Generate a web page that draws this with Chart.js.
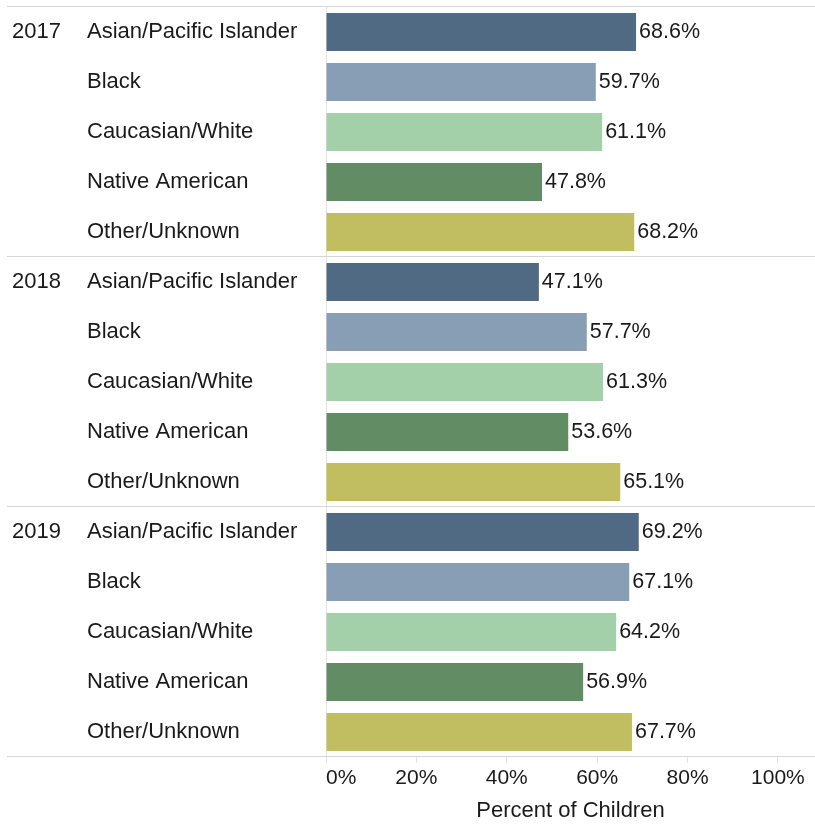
<!DOCTYPE html>
<html lang="en">
<head>
<meta charset="UTF-8">
<title>Percent of Children by Race</title>
<script src="https://cdn.jsdelivr.net/npm/chart.js"></script>
<style>
  html, body { margin: 0; padding: 0; background: #fff; }
  canvas { display: block; }
</style>
</head>
<body>
<canvas id="chart" width="815" height="824"></canvas>
<script>
// data
const years = ['2017', '2018', '2019'];
const groups = ['Asian/Pacific Islander', 'Black', 'Caucasian/White', 'Native American', 'Other/Unknown'];
const values2017 = [68.6, 59.7, 61.1, 47.8, 68.2];
const values2018 = [47.1, 57.7, 61.3, 53.6, 65.1];
const values2019 = [69.2, 67.1, 64.2, 56.9, 67.7];
const xTicks = [0, 20, 40, 60, 80, 100];
const groupColors = ['#4f6a82', '#879eb4', '#a3cfa9', '#618c64', '#c1bd61'];

const FONT = "'Liberation Sans', Arial, Helvetica, sans-serif";
const TEXT = '#1a1a1a';
const LINE = '#d6d6d6';

// one row per year+group
const labels = [];
const values = [];
const colors = [];
[values2017, values2018, values2019].forEach(function (vals) {
    vals.forEach(function (v, i) {
        labels.push(groups[i]);
        values.push(v);
        colors.push(groupColors[i]);
    });
});

// year labels, separators and value labels
const extras = {
    id: 'extras',
    afterDraw(chart) {
        const ctx = chart.ctx;
        const area = chart.chartArea;
        const y = chart.scales.y;
        const n = groups.length;
        const rowH = (area.bottom - area.top) / labels.length;

        ctx.save();
        ctx.strokeStyle = LINE;
        ctx.lineWidth = 1;
        for (let g = 0; g <= years.length; g++) {
            const yy = Math.round(area.top + g * n * rowH) - 0.5;
            ctx.beginPath();
            ctx.moveTo(7, yy);
            ctx.lineTo(area.right, yy);
            ctx.stroke();
        }

        ctx.fillStyle = TEXT;
        ctx.font = '22px ' + FONT;
        ctx.textBaseline = 'middle';
        ctx.textAlign = 'left';
        years.forEach(function (yr, g) {
            ctx.fillText(yr, 12, y.getPixelForValue(g * n));
        });

        ctx.font = '21.5px ' + FONT;
        const meta = chart.getDatasetMeta(0);
        meta.data.forEach(function (bar, i) {
            ctx.fillText(values[i].toFixed(1) + '%', bar.x + 3, bar.y);
        });
        ctx.restore();
    }
};

new Chart(document.getElementById('chart'), {
    type: 'bar',
    data: {
        labels: labels,
        datasets: [{
            data: values,
            backgroundColor: colors,
            borderWidth: 0,
            barPercentage: 0.76,
            categoryPercentage: 1
        }]
    },
    options: {
        indexAxis: 'y',
        responsive: false,
        animation: false,
        layout: { padding: { top: 7, left: 87, right: 0, bottom: 0 } },
        plugins: {
            legend: { display: false },
            tooltip: { enabled: false }
        },
        scales: {
            x: {
                min: 0,
                max: 108.2,
                afterBuildTicks(scale) {
                    scale.ticks = xTicks.map(v => ({ value: v })).concat([{ value: 108.2 }]);
                },
                afterFit(scale) {
                    scale.height = 67;
                    scale.paddingLeft = 0;
                    scale.paddingRight = 0;
                },
                ticks: {
                    autoSkip: false,
                    maxRotation: 0,
                    align: 'inner',
                    padding: 3,
                    color: TEXT,
                    font: { family: FONT, size: 21 },
                    callback: v => (xTicks.includes(v) ? v + '%' : '')
                },
                grid: {
                    drawOnChartArea: false,
                    drawTicks: true,
                    tickLength: 6,
                    tickColor: ctx => (ctx.tick && xTicks.includes(ctx.tick.value) ? '#e3e3e3' : 'rgba(0,0,0,0)')
                },
                border: { display: false },
                title: {
                    display: true,
                    text: 'Percent of Children',
                    color: TEXT,
                    font: { family: FONT, size: 22 },
                    padding: { top: 4, bottom: 0 }
                }
            },
            y: {
                afterFit(scale) {
                    scale.width = 239;
                    scale.paddingTop = 0;
                    scale.paddingBottom = 0;
                },
                ticks: {
                    crossAlign: 'far',
                    padding: 0,
                    color: TEXT,
                    font: { family: FONT, size: 22 }
                },
                grid: { display: false, drawTicks: false },
                border: { display: true, color: '#e3e3e3', width: 1 }
            }
        }
    },
    plugins: [extras]
});
</script>
</body>
</html>
